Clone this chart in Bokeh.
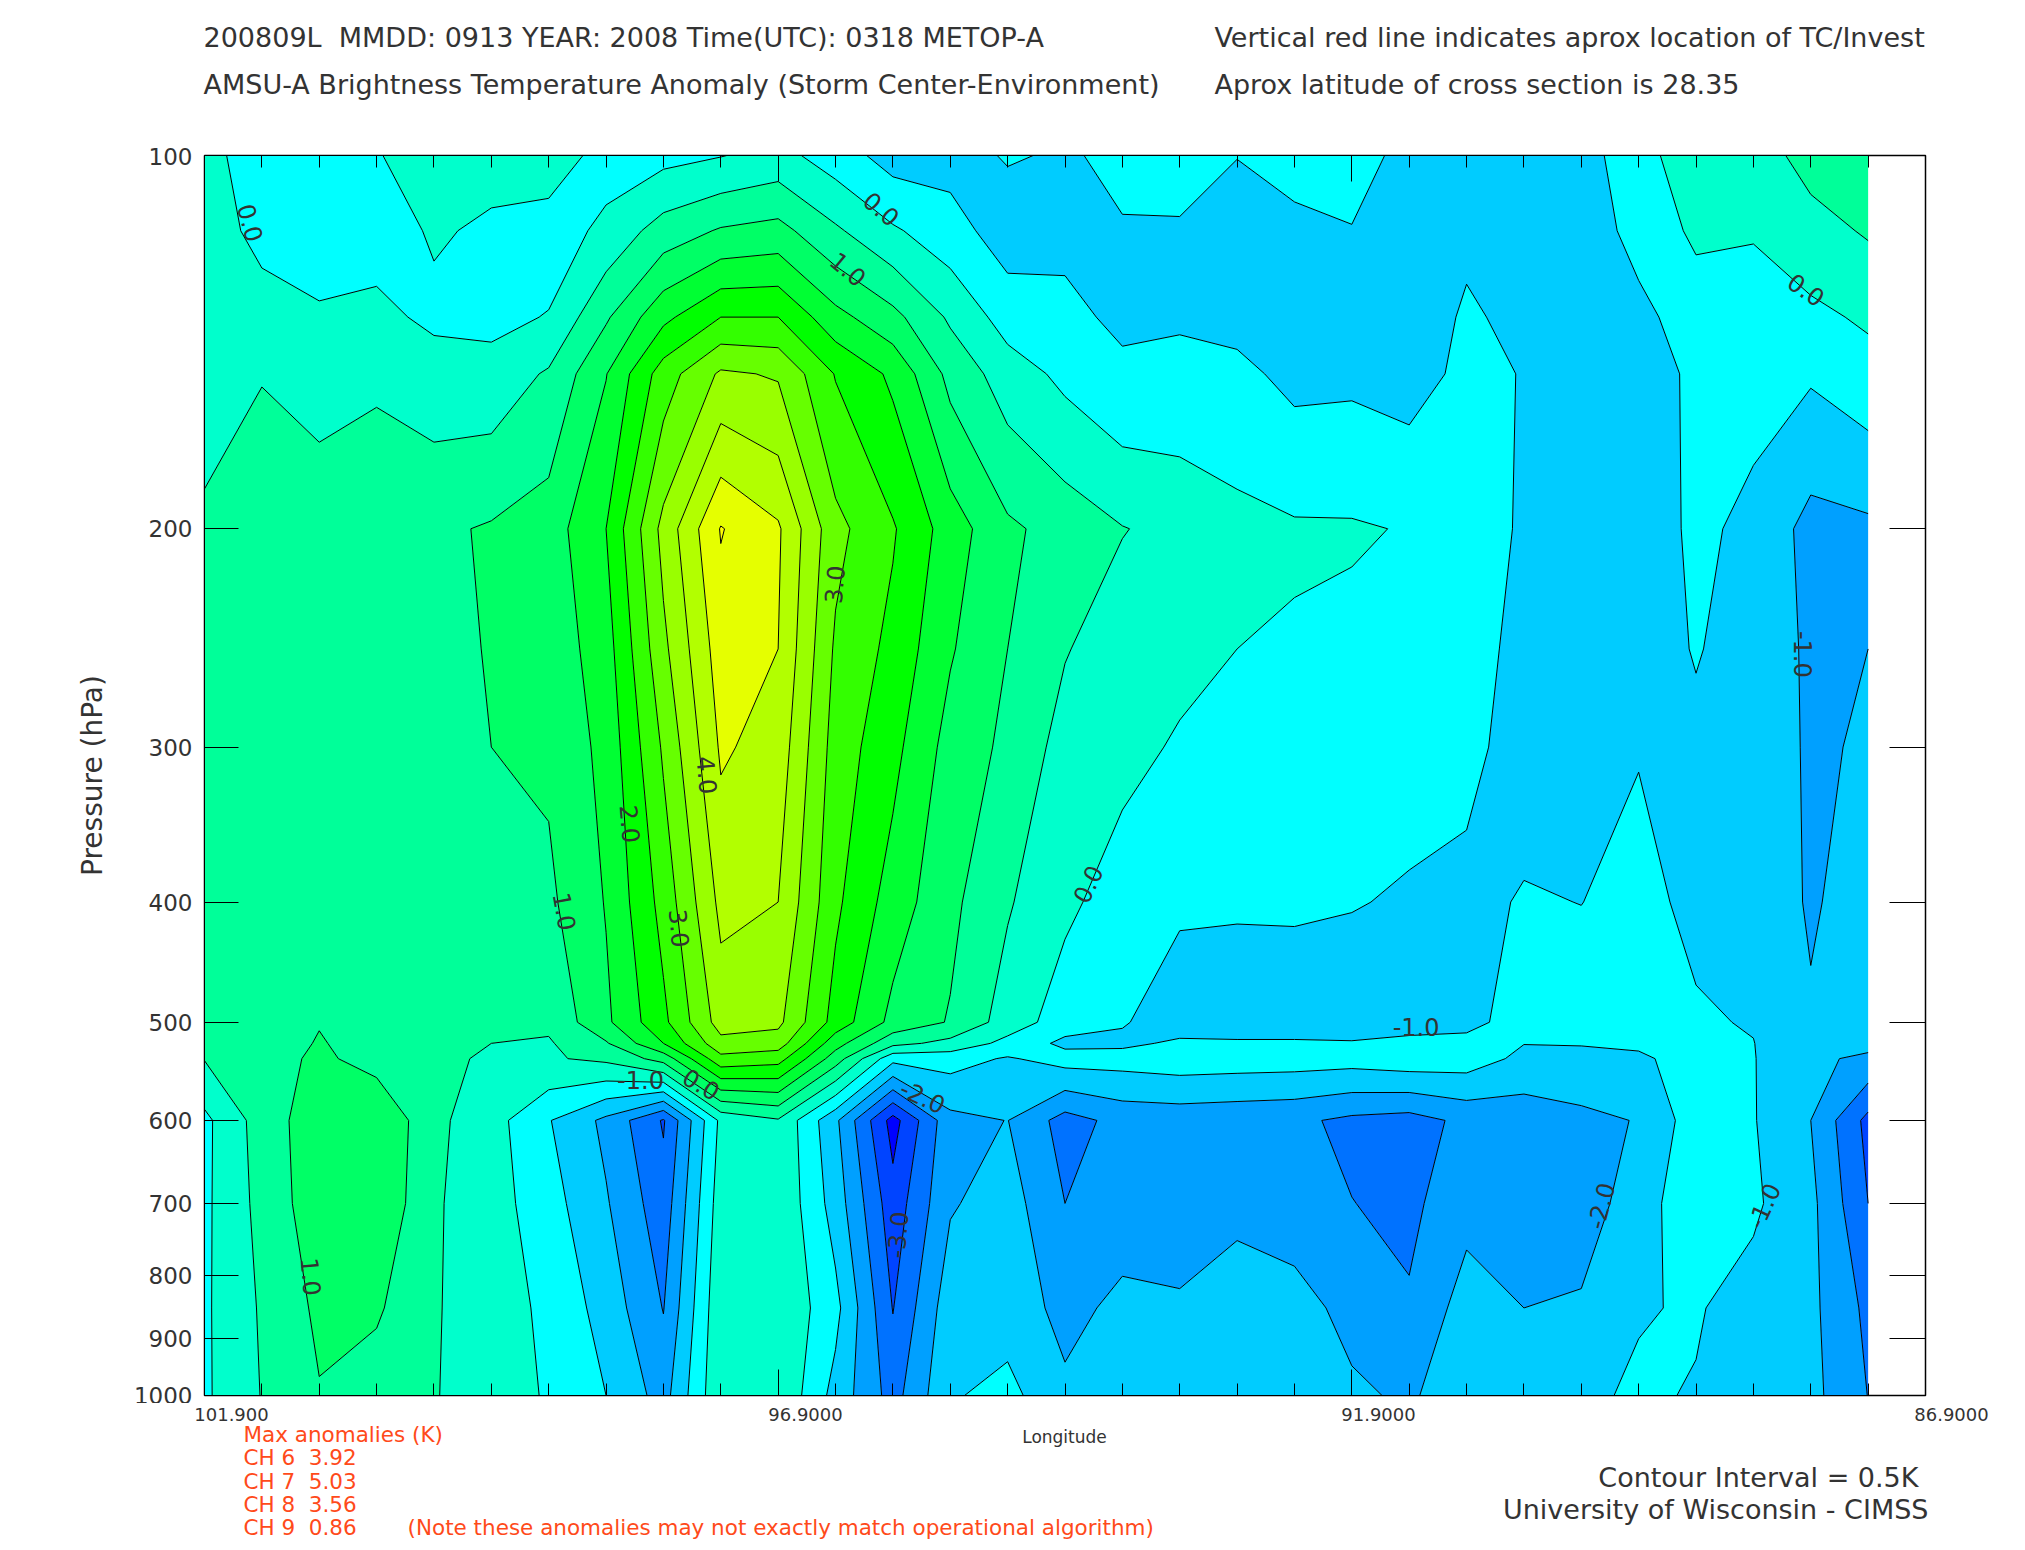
from bokeh.embed import file_html
from bokeh.layouts import column
from bokeh.resources import INLINE
from bokeh.plotting import figure
from bokeh.models import ColumnDataSource, FixedTicker, LinearAxis, LogAxis, Range1d
from bokeh.core.properties import value
import numpy as np

# ---- data -----------------------------------------------------------------
lons = [101.9, 101.4, 100.9, 100.4, 99.9, 99.4, 98.9, 98.4, 97.9, 97.4,
        96.9, 96.4, 95.9, 95.4, 94.9, 94.4, 93.9, 93.4, 92.9, 92.4,
        91.9, 91.4, 90.9, 90.4, 89.9, 89.4, 88.9, 88.4, 87.9, 87.4]
pressures = [100, 115, 135, 150, 200, 250, 300, 400, 500, 520, 535, 600, 700, 850, 1000]

r100 = [.22,-.35,-.38,-.05,.4,.15,.37,-.25,-.15,-.02,.17,-.25,-.71,-.68,-.46,-.55,-.4,-.3,-.49,-.35,-.3,-.65,-.7,-.7,-.7,-.2,.33,.28,.67,.85]
r115 = [.24,-.14,-.2,-.2,.05,-.07,-.3,.14,.72,1.05,1.17,.58,.07,-.3,-.75,-.62,-.53,-.55,-.7,-.6,-.52,-.85,-.62,-.75,-.75,-.35,.1,.05,.33,.55]
r135 = [.27,.2,.05,.12,-.1,-.15,.03,.93,1.87,2.5,2.5,1.66,1.15,.42,-.22,-.38,-.6,-.56,-.65,-.75,-.7,-.85,-.42,-.65,-.7,-.62,-.28,-.3,-.12,.08]
r150 = [.3,.48,.24,.4,.22,.2,.56,1.48,2.75,3.58,3.45,2.47,1.9,.85,.25,-.12,-.4,-.36,-.38,-.63,-.6,-.7,-.38,-.52,-.65,-.75,-.4,-.4,-.44,-.2]
r200 = [.58,.75,.88,.92,.91,1.05,1.25,2.0,3.66,5.03,4.57,3.15,2.55,1.76,1.09,.81,.52,.36,.15,.06,.05,-.03,-.3,-.55,-.7,-.7,-.43,-.58,-1.18,-1.1]
r250 = [.78,.82,.84,.85,.86,1.03,1.17,1.78,3.38,4.76,4.5,2.92,2.36,1.55,1.0,.53,.25,.12,0.0,-.05,-.12,-.2,-.3,-.65,-.8,-.72,-.47,-.7,-1.08,-1.0]
r300 = [.85,.87,.88,.9,.92,1.0,1.08,1.65,3.07,4.57,4.3,2.78,2.15,1.31,.89,.31,.13,-.05,-.1,-.18,-.2,-.3,-.4,-.66,-.75,-.52,-.6,-.6,-1.09,-.93]
r400 = [.75,.85,.86,.86,.86,.87,.9,1.53,2.68,4.13,4.0,2.6,1.77,1.12,.55,.1,-.22,-.43,-.43,-.42,-.47,-.56,-.6,-.47,-.505,-.38,-.6,-.7,-1.05,-.8]
r500 = [.86,.8,.98,.85,.75,.68,.6,1.4,2.38,3.72,3.62,2.3,1.35,.96,.27,-.25,-.46,-.75,-.85,-.85,-.85,-.75,-.58,-.38,-.3,-.3,-.45,-.53,-.95,-.53]
r520 = [.66,.78,1.03,.83,.72,.5,.45,.95,2.0,3.35,3.25,1.7,.65,.35,-.15,-.62,-.6,-.42,-.42,-.42,-.45,-.35,-.42,-.49,-.46,-.44,-.4,-.49,-.9,-.85]
r535 = [.52,.77,1.1,.8,.7,.38,.45,.6,1.2,2.85,2.7,1.25,-.35,-.3,-.55,-.3,-.3,-.22,-.25,-.27,-.3,-.2,-.25,-.62,-.7,-.56,-.35,-.48,-.9,-1.1]
r600 = [-.12,.73,1.3,1.48,.62,.2,-.47,-1.12,-2.05,.12,.45,-.9,-2.7,-1.15,-.99,-1.7,-1.34,-1.3,-1.35,-1.4,-1.61,-1.7,-1.38,-1.3,-1.1,-.98,-.23,-.47,-1.0,-2.15]
r700 = [-.1,.66,1.3,1.45,.56,.22,-.3,-.95,-1.8,.27,.45,-.72,-2.3,-1.05,-.77,-1.5,-1.25,-1.2,-1.2,-1.3,-1.49,-1.62,-1.16,-1.15,-1.2,-.8,-.05,-.42,-.87,-2.0]
r850 = [-.08,.56,1.1,1.07,.55,.2,-.09,-.71,-1.52,.4,.45,-.35,-2.02,-.7,-.72,-1.15,-.88,-.95,-.6,-.78,-1.18,-1.44,-.78,-1.0,-.95,-.53,-.46,-.69,-.88,-1.62]
r1000 = [-.08,.52,.97,.75,.55,.05,-.01,-.5,-1.2,.44,.47,-.68,-1.7,-.55,-.35,-.9,-.75,-.75,-.7,-.75,-.9,-1.09,-.6,-.65,-.58,-.44,-.53,-.75,-.85,-1.51]

levels = [-3.0 + 0.5 * i for i in range(18)]
band_colors = ["#0000ff", "#0044ff", "#0072ff", "#00a0ff", "#00ccff", "#00ffff", "#00ffcc", "#00ff99",
               "#00ff66", "#00ff33", "#00ff00", "#33ff00", "#66ff00", "#99ff00", "#b2ff00", "#e5ff00", "#ffff00"]

x_major = [101.9, 96.9, 91.9, 86.9]
x_major_labels = ["101.900", "96.9000", "91.9000", "86.9000"]
x_minor = [round(101.9 - 0.5 * i, 1) for i in range(31)]
y_ticks = [100, 200, 300, 400, 500, 600, 700, 800, 900, 1000]

contour_labels = ["0.0", "0.0", "1.0", "0.0", "3.0", "4.0", "2.0", "3.0", "1.0", "0.0",
                  "-1.0", "0.0", "1.0", "-2.0", "-3.0", "-1.0", "-2.0", "-1.0", "-1.0"]
label_lon = [101.5, 96.0, 96.29, 87.94, 96.41, 97.52, 98.19, 97.76, 98.76, 94.2,
             98.1, 97.57, 100.97, 95.64, 95.86, 91.34, 89.73, 88.31, 87.97]
label_p = [113.3, 110.4, 123.5, 128.3, 221.8, 316, 346, 420, 407, 387,
           556.6, 561, 802, 574, 742, 504.6, 703, 703, 252.5]
label_angle = [-75, -40, -40, -35, 85, -85, -85, -85, -80, 65,
               0, -30, -85, -25, 85, 0, 75, 65, -90]

# ---- layout constants -------------------------------------------------------
FONT = "DejaVu Sans"
INK = "#333333"
RED = "#ff4a1a"
W = 2017
PAD = 8                  # room kept above and below the frame for the end tick labels
TOP_H = 155 - PAD
MAIN_H = 1240 + 2 * PAD
BOT_TOP = 1395 + PAD
BOT_H = 142

# ---- main chart -------------------------------------------------------------
p = figure(width=W, height=MAIN_H, output_backend="svg", toolbar_location=None,
           x_range=Range1d(101.9, 86.9), y_range=Range1d(1000, 100), y_axis_type="log",
           frame_width=1721, frame_height=1240, frame_align=False,
           min_border_left=204, min_border_right=92, min_border_top=PAD, min_border_bottom=PAD)
p.grid.visible = False
p.background_fill_color = "white"
p.outline_line_color = "black"
p.outline_line_width = 1.5

z = np.array([r100, r115, r135, r150, r200, r250, r300, r400, r500, r520, r535, r600, r700, r850, r1000])
p.contour(lons, pressures, z, levels, fill_color=band_colors, line_color="black", line_width=1)

src = ColumnDataSource(dict(x=label_lon, y=label_p, t=contour_labels, a=label_angle))
p.text(x="x", y="y", text="t", angle="a", angle_units="deg", source=src,
       text_font=value(FONT), text_font_size="24px", text_color=INK,
       text_align="center", text_baseline="middle")

xb = p.xaxis[0]
xb.ticker = FixedTicker(ticks=x_major, minor_ticks=x_minor)
xb.major_label_overrides = {t: "" for t in x_major}
xb.major_tick_in, xb.major_tick_out = 26, 0
xb.minor_tick_in, xb.minor_tick_out = 12, 0
xb.major_label_standoff = 0

xt = LinearAxis(ticker=FixedTicker(ticks=x_major, minor_ticks=x_minor),
                major_tick_in=26, major_tick_out=0, minor_tick_in=12, minor_tick_out=0,
                major_label_standoff=0,
                major_label_overrides={t: "" for t in x_major})
p.add_layout(xt, "above")

yl = p.yaxis[0]
yl.ticker = FixedTicker(ticks=y_ticks, minor_ticks=[])
yl.major_label_overrides = {t: str(t) for t in y_ticks}
yl.major_tick_in, yl.major_tick_out = 34, 0
yl.major_label_text_font = FONT
yl.major_label_text_font_size = "23px"
yl.major_label_text_color = INK
yl.major_label_standoff = 12
yl.axis_label = "Pressure (hPa)"
yl.axis_label_text_font = FONT
yl.axis_label_text_font_size = "28px"
yl.axis_label_text_font_style = "normal"
yl.axis_label_text_color = INK
yl.axis_label_standoff = 22

yr = LogAxis(ticker=FixedTicker(ticks=y_ticks, minor_ticks=[]),
             major_tick_in=36, major_tick_out=0, major_label_standoff=0,
             major_label_overrides={t: "" for t in y_ticks})
p.add_layout(yr, "right")

# ---- text strips above and below the chart, addressed in page pixels ---------
def strip(height, y_top):
    f = figure(width=W, height=height, output_backend="svg", toolbar_location=None,
               x_range=Range1d(0, W), y_range=Range1d(y_top + height, y_top),
               x_axis_location=None, y_axis_location=None, frame_align=False,
               min_border=0, min_border_left=0, min_border_right=0, min_border_top=0, min_border_bottom=0)
    f.grid.visible = False
    f.outline_line_color = None
    return f

def put(f, txt, x, y, size, color=INK, align="left"):
    f.text(x=[x], y=[y], text=[txt], text_font=value(FONT), text_font_size=size, text_color=color,
           text_align=align, text_baseline="middle")

top = strip(TOP_H, 0)
put(top, "200809L\u00a0 MMDD: 0913 YEAR: 2008 Time(UTC): 0318 METOP-A", 203, 37, "27px")
put(top, "AMSU-A Brightness Temperature Anomaly (Storm Center-Environment)", 203, 84, "27px")
put(top, "Vertical red line indicates aprox location of TC/Invest", 1214, 37, "27px")
put(top, "Aprox latitude of cross section is 28.35", 1214, 84, "27px")

bot = strip(BOT_H, BOT_TOP)
tick_px = [231, 805, 1378, 1951]
for px, txt in zip(tick_px, x_major_labels):
    put(bot, txt, px, 1414, "18px", INK, "center")
put(bot, "Longitude", 1064, 1436, "17px", INK, "center")
put(bot, "Max anomalies (K)", 243, 1434, "21.5px", RED)
put(bot, "CH 6\u00a0 3.92", 243, 1457, "21.5px", RED)
put(bot, "CH 7\u00a0 5.03", 243, 1481, "21.5px", RED)
put(bot, "CH 8\u00a0 3.56", 243, 1504, "21.5px", RED)
put(bot, "CH 9\u00a0 0.86", 243, 1527, "21.5px", RED)
put(bot, "(Note these anomalies may not exactly match operational algorithm)", 407, 1527, "21.5px", RED)
put(bot, "Contour Interval = 0.5K", 1918, 1477, "27px", INK, "right")
put(bot, "University of Wisconsin - CIMSS", 1928, 1509, "27px", INK, "right")

open("out.html", "w").write(file_html(column(top, p, bot, spacing=0), INLINE))
